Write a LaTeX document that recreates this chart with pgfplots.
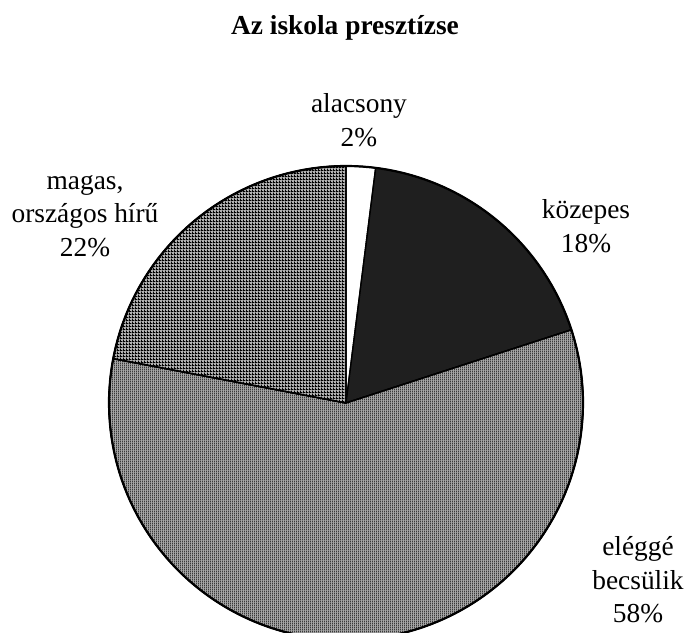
\documentclass[border=0pt]{standalone}
\usepackage{pgfplots}
\pgfplotsset{compat=1.18}
\usepackage{fontspec}
\setmainfont{Liberation Serif}
\usetikzlibrary{patterns.meta}
\tikzdeclarepattern{
  name=vstripes,
  type=uncolored,
  bounding box={(0,0) and (2bp,2bp)},
  tile size={(2bp,2bp)},
  code={\pgfpathrectangle{\pgfpointorigin}{\pgfpoint{1.1bp}{2bp}}\pgfusepath{fill}}
}
\tikzdeclarepattern{
  name=finegrid,
  type=uncolored,
  bounding box={(0,0) and (3bp,3bp)},
  tile size={(3bp,3bp)},
  code={\pgfpathrectangle{\pgfpointorigin}{\pgfpoint{3bp}{1.3bp}}\pgfpathrectangle{\pgfpointorigin}{\pgfpoint{1.3bp}{3bp}}\pgfusepath{fill}}
}
% shares in percent (clockwise from 12 o'clock)
\def\vA{2}   % alacsony
\def\vB{18}  % kozepes
\def\vC{58}  % elegge becsulik
\def\vD{22}  % magas, orszagos hiru
\pgfmathsetmacro\aA{0}
\pgfmathsetmacro\aB{\aA+3.6*\vA}
\pgfmathsetmacro\aC{\aB+3.6*\vB}
\pgfmathsetmacro\aD{\aC+3.6*\vC}
\pgfmathsetmacro\aE{\aD+3.6*\vD}
\def\cx{346}
\def\cy{230}
\def\rr{237}
\begin{document}
\begin{tikzpicture}
\useasboundingbox (0,0) rectangle (685bp,633bp);
\begin{axis}[
  at={(0,0)}, anchor=south west,
  scale only axis, width=685bp, height=633bp,
  xmin=0, xmax=685, ymin=0, ymax=633,
  hide axis, clip=true,
  every axis plot/.append style={line width=1.4bp, draw=black, samples=90, variable=\t, line join=round},
]
\addplot[fill=white, domain=\aA:\aB] ({\cx+\rr*sin(\t)},{\cy+\rr*cos(\t)}) -- (axis cs:\cx,\cy) -- cycle;
\addplot[fill=black!88, domain=\aB:\aC] ({\cx+\rr*sin(\t)},{\cy+\rr*cos(\t)}) -- (axis cs:\cx,\cy) -- cycle;
\addplot[fill=black!35, postaction={pattern={vstripes}, pattern color=black}, domain=\aC:\aD] ({\cx+\rr*sin(\t)},{\cy+\rr*cos(\t)}) -- (axis cs:\cx,\cy) -- cycle;
\addplot[fill=black!30, postaction={pattern={finegrid}, pattern color=black}, domain=\aD:\aE] ({\cx+\rr*sin(\t)},{\cy+\rr*cos(\t)}) -- (axis cs:\cx,\cy) -- cycle;
\addplot[line width=2.2bp, samples=180, domain=\aA:\aE] ({\cx+\rr*sin(\t)},{\cy+\rr*cos(\t)});
\end{axis}
\begin{scope}[every node/.style={align=center, font=\fontsize{27.5}{33.5}\selectfont, inner sep=0pt}]
\node at (345bp,605bp) {\bfseries Az iskola presztízse};
\node at (359bp,513bp) {alacsony\\2\%};
\node at (586bp,407bp) {közepes\\18\%};
\node at (85bp,417bp) {magas,\\országos hírű\\22\%};
\node at (638bp,53bp) {eléggé\\becsülik\\58\%};
\end{scope}
\end{tikzpicture}
\end{document}
